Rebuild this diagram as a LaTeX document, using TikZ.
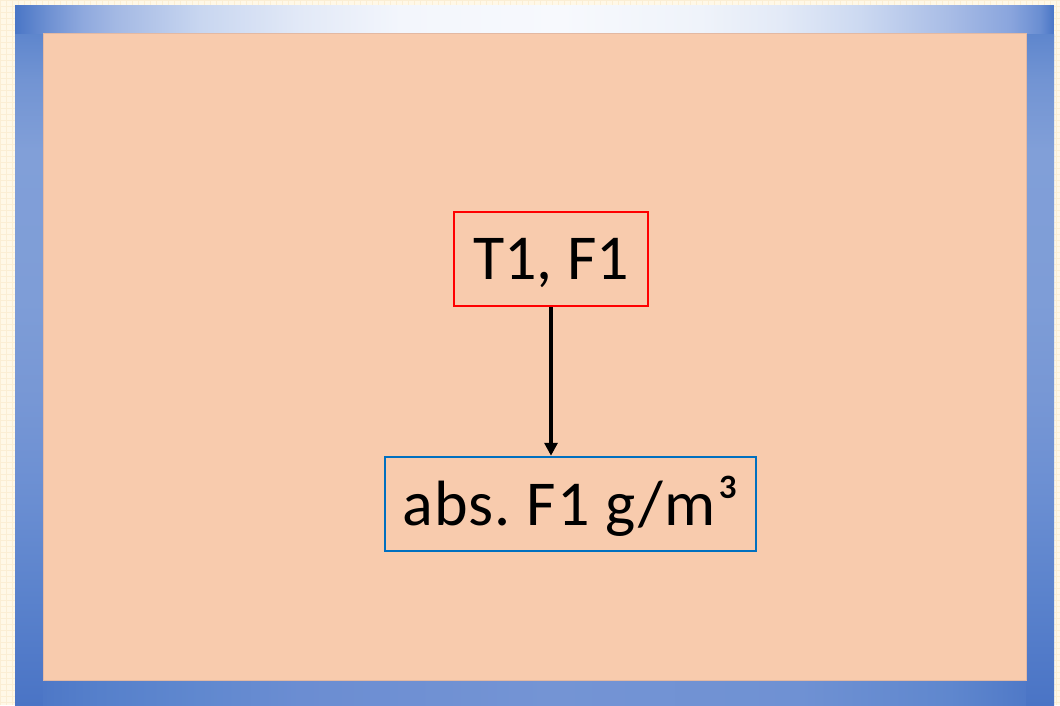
\documentclass[tikz,border=0pt]{standalone}
\usepackage{fontspec}
\setmainfont{Carlito}
\usetikzlibrary{arrows.meta}
\definecolor{cream}{HTML}{FFF8E7}
\definecolor{creamgrid}{HTML}{FBEED4}
\definecolor{peach}{HTML}{F8CBAD}
\definecolor{peachedge}{HTML}{E3B9A3}
\definecolor{boxred}{HTML}{FF0000}
\definecolor{boxblue}{HTML}{0070C0}
% blue frame band colours
\definecolor{fa}{HTML}{4A76C6}
\definecolor{fb}{HTML}{7092D3}
\definecolor{fc}{HTML}{8FA9DE}
\definecolor{fd}{HTML}{A4B9E4}
\definecolor{fe}{HTML}{C8D6F0}
\definecolor{ff}{HTML}{E2E9F7}
\definecolor{fg}{HTML}{F3F6FC}
\definecolor{fh}{HTML}{F7F9FD}
\definecolor{fi}{HTML}{EFF3FA}
\definecolor{fj}{HTML}{E3EAF7}
\definecolor{fk}{HTML}{CCD9F1}
\definecolor{fl}{HTML}{A9BDE6}
\definecolor{fm}{HTML}{8AA5DD}
\definecolor{fn}{HTML}{6A8ED2}
\definecolor{sa}{HTML}{4A74C5}
\definecolor{sb}{HTML}{527BC9}
\definecolor{sc}{HTML}{5A82CC}
\definecolor{sd}{HTML}{6A8ED2}
\definecolor{se}{HTML}{7797D5}
\definecolor{sf}{HTML}{7E9DD7}
\definecolor{sg}{HTML}{819FD8}
\definecolor{sh}{HTML}{7294D3}
\definecolor{si}{HTML}{5E86CD}
\definecolor{ba}{HTML}{5680CB}
\definecolor{bb}{HTML}{6088CF}
\definecolor{bc}{HTML}{6B8DD2}
\definecolor{bd}{HTML}{7494D4}
\definecolor{be}{HTML}{6F91D3}
\definecolor{bf}{HTML}{5F87CE}
\pgfdeclarehorizontalshading{topshade}{28pt}{%
  color(0pt)=(fa); color(35pt)=(fb); color(68pt)=(fc); color(102pt)=(fd);
  color(185pt)=(fe); color(285pt)=(ff); color(385pt)=(fg); color(545pt)=(fh);
  color(685pt)=(fi); color(765pt)=(fj); color(845pt)=(fk); color(932pt)=(fl);
  color(995pt)=(fm); color(1025pt)=(fn); color(1039pt)=(fa)}
\pgfdeclarehorizontalshading{bottomshade}{25pt}{%
  color(0pt)=(sa); color(85pt)=(ba); color(185pt)=(bb); color(285pt)=(bc);
  color(535pt)=(bd); color(785pt)=(be); color(935pt)=(bf); color(1039pt)=(sa)}
\pgfdeclareverticalshading{sideshade}{28pt}{%
  color(0pt)=(sa); color(55pt)=(sb); color(105pt)=(sc); color(205pt)=(sd);
  color(305pt)=(se); color(405pt)=(sf); color(555pt)=(sg); color(625pt)=(sh);
  color(672pt)=(si)}
\begin{document}
\begin{tikzpicture}[x=1pt,y=-1pt]
    \useasboundingbox (0,0) rectangle (1060,705);
    \fill[cream] (0,0) rectangle (1060,705);
    \draw[creamgrid,step=6pt,line width=0.6pt] (0,0) grid (1060,705);
    \fill[fa] (15,5) rectangle (1054,705);
    \begin{scope}[every node/.style={inner sep=0pt,outer sep=0pt}]
      \node[anchor=north west] (bottomband) at (15,680) {\pgfuseshading{bottomshade}};
      \node[anchor=north west] (leftband) at (15,33) {\pgfuseshading{sideshade}};
      \node[anchor=north west] (rightband) at (1026,33) {\pgfuseshading{sideshade}};
      \node[anchor=north west] (topband) at (15,5) {\pgfuseshading{topshade}};
    \end{scope}
    \filldraw[fill=peach,draw=peachedge,line width=1pt] (43,33) rectangle (1026,680);
    \begin{scope}[every node/.style={draw,line width=2.5pt,inner sep=0pt,minimum height=94pt,text depth=0pt,font=\fontsize{64}{72}\selectfont}]
      \node[draw=boxred,minimum width=194pt,text height=41pt] (t1f1) at (551,259) {T1, F1};
      \node[draw=boxblue,minimum width=371pt,text height=43pt] (absf1) at (570.5,504) {\addfontfeature{LetterSpace=1.9}abs.\ F1 g/m³};
    \end{scope}
    \begin{scope}[every edge/.style={draw=black,line width=3.5pt},>={Triangle[width=13pt,length=13pt]}]
      \path (t1f1) edge[->] (t1f1.south |- absf1.north);
    \end{scope}
\end{tikzpicture}
\end{document}
